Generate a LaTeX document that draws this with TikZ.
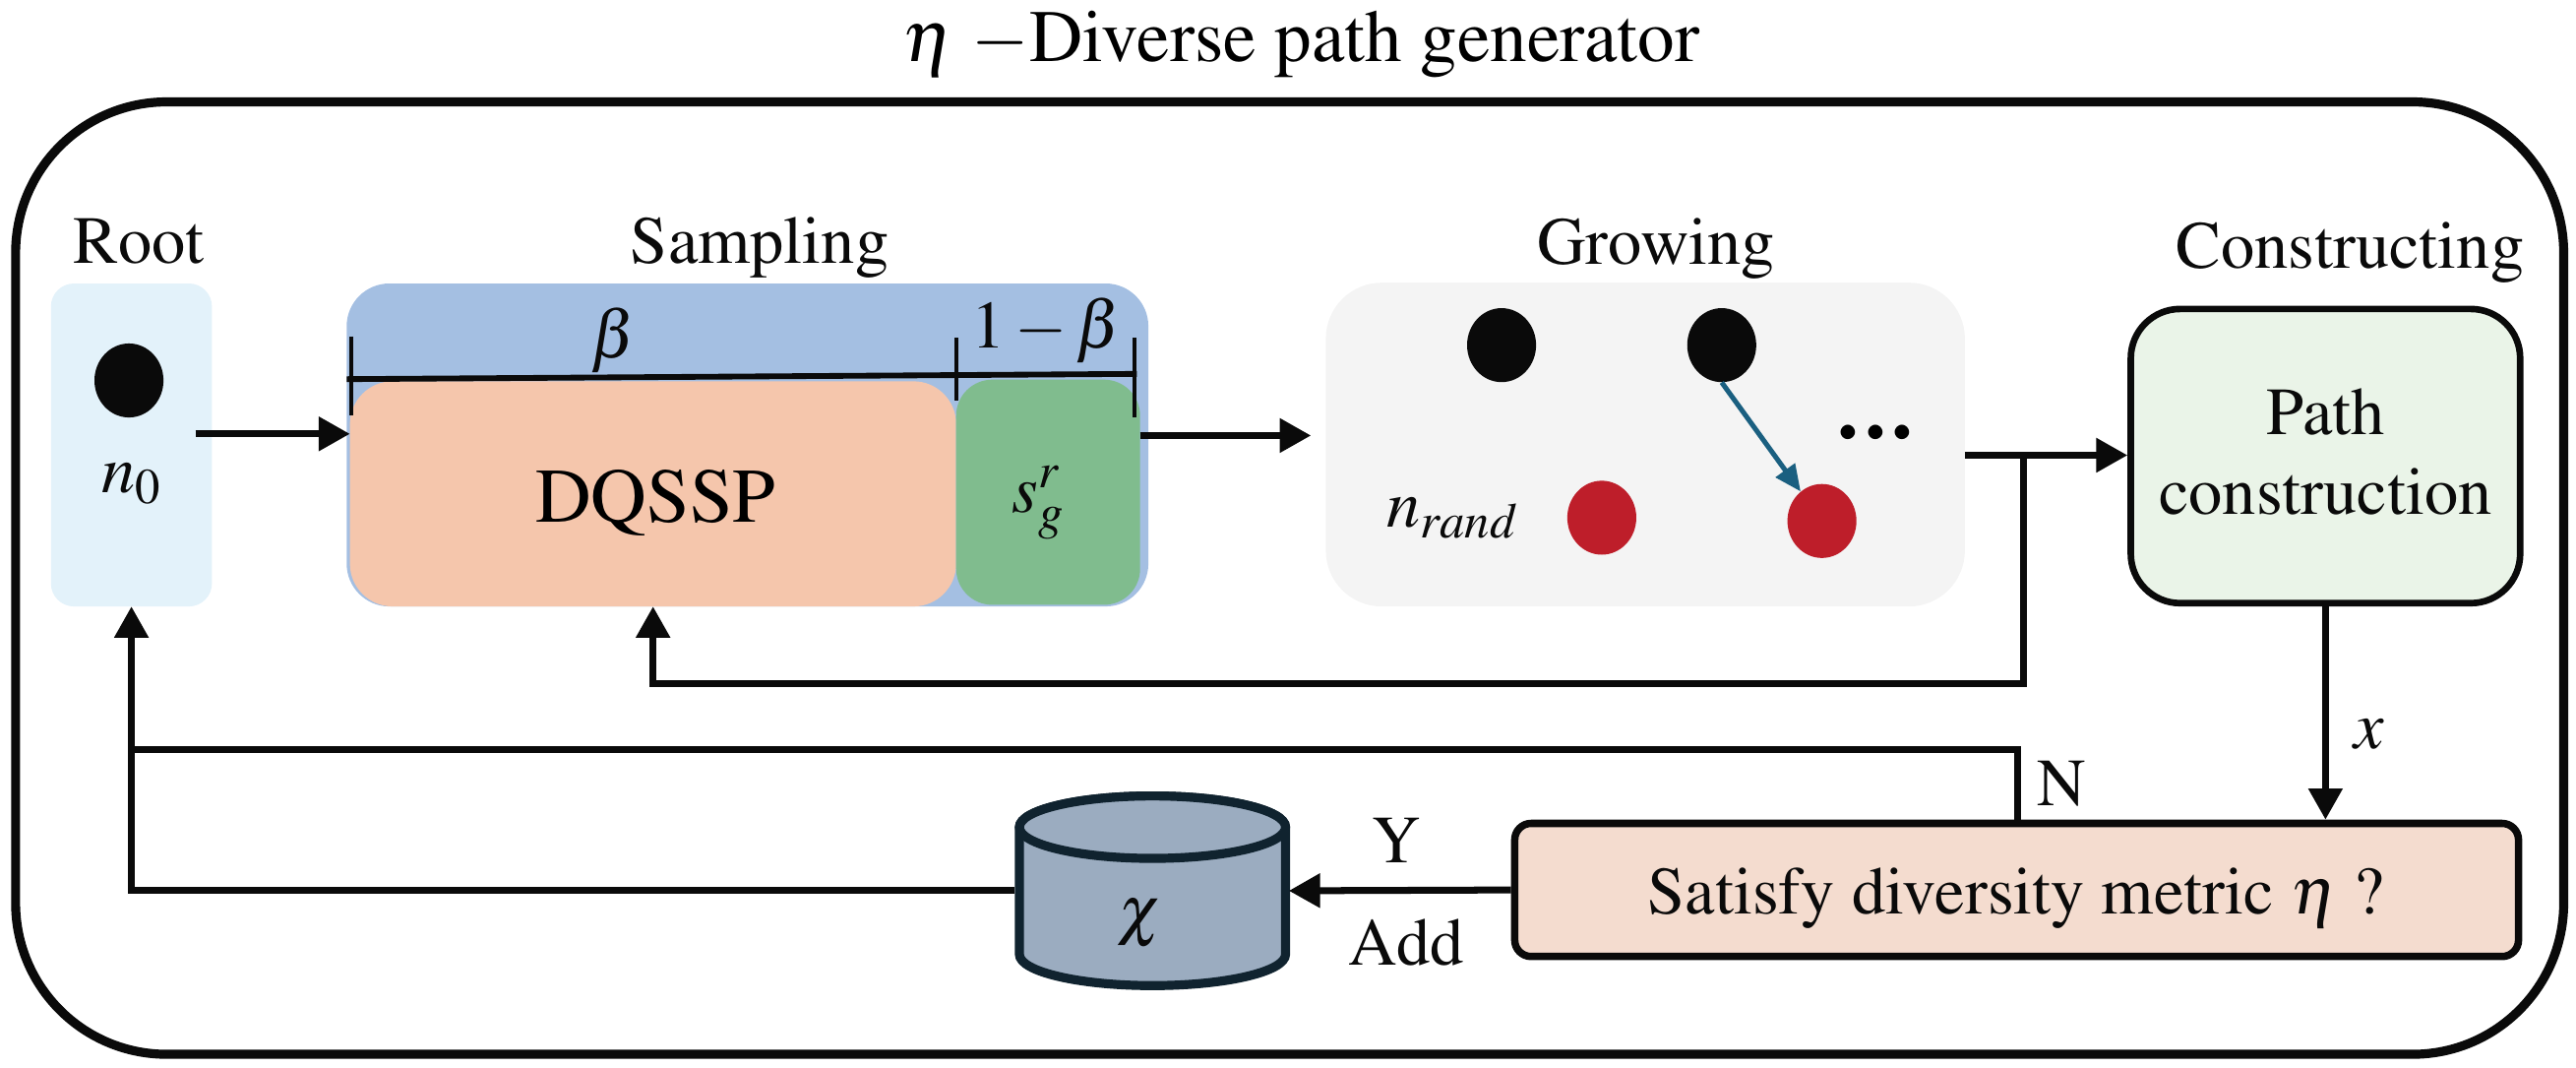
\documentclass[tikz,border=0pt]{standalone}
\usepackage[T1]{fontenc}
\usepackage{mathptmx}
\usetikzlibrary{arrows.meta,shapes.geometric}
\definecolor{rootblue}{RGB}{227,242,250}
\definecolor{sampblue}{RGB}{164,191,226}
\definecolor{peach}{RGB}{245,198,172}
\definecolor{sggreen}{RGB}{128,188,142}
\definecolor{growgray}{RGB}{244,244,244}
\definecolor{pathgreen}{RGB}{234,244,232}
\definecolor{satpeach}{RGB}{244,220,207}
\definecolor{cylfill}{RGB}{155,172,192}
\definecolor{cyldark}{RGB}{16,35,47}
\definecolor{treeblue}{RGB}{26,95,128}
\definecolor{dotred}{RGB}{190,30,42}
\definecolor{ink}{RGB}{10,10,10}
\newcommand\lblfont{\rmfamily\fontsize{41}{48.5}\selectfont}
\begin{document}
\begin{tikzpicture}[x=1pt,y=-1pt,
  boxbase/.style={inner sep=0pt, outer sep=0pt},
  lbl/.style={font=\lblfont, inner sep=0pt, text=ink},
  conn/.style={line width=4.2pt, draw=ink},
  arr/.style={conn, -{Triangle[length=19pt,width=20pt]}},
  dot/.style={ellipse, minimum width=42pt, minimum height=45pt, inner sep=0pt},
]
\useasboundingbox (0,0) rectangle (1568,649.3);
% outer frame
\draw[line width=5.5pt, draw=ink, rounded corners=92pt] (9.5,62) rectangle (1560.5,641.5);
\node[font=\rmfamily\fontsize{45}{54}\selectfont, anchor=base, inner sep=0pt] (title) at (792,37.5) {$\eta$ $-$Diverse path generator};

% column labels
\node[lbl, anchor=base] (lroot) at (84.5,160) {Root};
\node[lbl, anchor=base] (lsamp) at (462.5,160) {Sampling};
\node[lbl, anchor=base] (lgrow) at (1008,161) {Growing};
\node[lbl, anchor=base] (lcons) at (1430.5,163) {Constructing};

% root
\node[boxbase, fill=rootblue, rounded corners=14pt, minimum width=98pt, minimum height=196.5pt] (rootbox) at (80,270.75) {};
\node[dot, fill=ink] (n0dot) at (78.5,231.5) {};
\node[lbl, anchor=base] (n0) at (80,300) {$n_0$};

% sampling
\node[boxbase, fill=sampblue, rounded corners=26pt, minimum width=488pt, minimum height=196.5pt] (sampbox) at (455,270.75) {};
\node[boxbase, fill=peach, rounded corners=26pt, minimum width=369pt, minimum height=137pt] (dq) at (397.5,300.5) {};
\node[boxbase, fill=sggreen, rounded corners=22pt, minimum width=112pt, minimum height=137pt] (sg) at (638,299.5) {};
\node[font=\rmfamily\fontsize{47}{56}\selectfont, anchor=base, inner sep=0pt] (dqtxt) at (399,317.5) {DQSSP};
\node[lbl, anchor=base] (sgtxt) at (632,311.5) {$s_g^r$};
% beta bracket
\coordinate (bl) at (211,230.7);
\coordinate (br) at (692,227.5);
\draw[line width=3.5pt, draw=ink] (bl) -- (br);
\draw[line width=2.6pt, draw=ink] (214,204.6) -- (214,252.9);
\draw[line width=2.6pt, draw=ink] (582,205.5) -- (582,243.6);
\draw[line width=2.6pt, draw=ink] (690.6,205.5) -- (690.6,253.8);
\node[lbl] (beta) at (373.5,207) {$\beta$};
\node[lbl] (omb) at (637,201) {$1-\beta$};

% growing
\node[boxbase, fill=growgray, rounded corners=34pt, minimum width=389pt, minimum height=197pt] (grow) at (1001.5,270.5) {};
\node[dot, fill=ink] (d1) at (914,210) {};
\node[dot, fill=ink] (d2) at (1048,210) {};
\node[dot, fill=dotred] (r1) at (975,315) {};
\node[dot, fill=dotred] (r2) at (1109,317) {};
\draw[line width=3pt, draw=treeblue, -{Triangle[length=16pt,width=14pt]}] (d2.south) -- (r2);
\node[lbl, anchor=base] (nrand) at (884,320.5) {$n_{rand}$};
\node[font=\rmfamily\bfseries\fontsize{52}{60}\selectfont, inner sep=0pt, anchor=base] (dots) at (1141.5,267) {.\kern3.5pt.\kern3.5pt.};

% constructing
\node[boxbase, draw=ink, line width=4pt, fill=pathgreen, rounded corners=30pt, minimum width=237pt, minimum height=179pt, outer sep=2pt] (pathc) at (1415.5,277.5) {};
\node[lbl, align=center] (pathtxt) at (1415.5,274.8) {Path\\construction};

% satisfy
\node[boxbase, draw=ink, line width=4.5pt, fill=satpeach, rounded corners=10pt, minimum width=611pt, minimum height=81pt, outer sep=2.25pt] (sat) at (1227.5,541.5) {};
\node[lbl, anchor=base] (sattxt) at (1227,556) {Satisfy diversity metric $\eta$ ?};

% cylinder
\node[boxbase, minimum width=167pt, minimum height=121pt] (chi) at (701,542) {};
\filldraw[line width=5.5pt, draw=cyldark, fill=cylfill]
  (620.5,503.3) -- (620.5,580.7) arc[start angle=180, end angle=0, x radius=81, y radius=19]
  -- (782.5,503.3) arc[start angle=0, end angle=-180, x radius=81, y radius=19] -- cycle;
\draw[line width=5.5pt, draw=cyldark, fill=cylfill] (701.5,503.3) ellipse [x radius=81, y radius=19];
\node[lbl] (chitxt) at (693.5,562) {$\chi$};

% connectors
\coordinate (rtail) at (119,264);
\draw[arr] (rtail) -- (dq.west |- rtail);
\coordinate (a2) at (0,265);
\draw[arr, shorten >=9pt] (sg.east |- a2) -- (grow.west |- a2);
\coordinate (a3) at (0,277);
\draw[arr] (grow.east |- a3) -- (pathc.west |- a3);
\coordinate (brn) at (1231.5,277);
\coordinate (lowy) at (0,416);
\draw[arr] (brn) -- (brn |- lowy) -| (dq.south);
\draw[arr] (pathc.south) -- (pathc.south |- sat.north);
\node[lbl] (xl) at (1442,447) {$x$};
\coordinate (nx) at (1228,0);
\coordinate (nj) at (80,456);
\draw[conn] (sat.north -| nx) |- (nj);
\node[lbl, anchor=base] (nl) at (1255,490) {N};
\draw[arr] (sat.west) -- (chi.east);
\node[lbl, anchor=base] (yl) at (850,525) {Y};
\node[lbl, anchor=base] (addl) at (856,587) {Add};
\draw[arr] (chi.west) -| (rootbox.south);
\end{tikzpicture}
\end{document}
